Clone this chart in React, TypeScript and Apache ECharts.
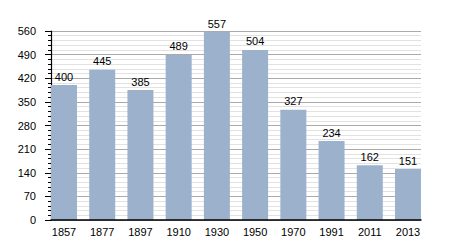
import React, { useEffect, useRef } from "react";
import * as echarts from "echarts";

const years = ["1857", "1877", "1897", "1910", "1930", "1950", "1970", "1991", "2011", "2013"];
const population = [400, 445, 385, 489, 557, 504, 327, 234, 162, 151];

const FONT = "'Liberation Sans', Arial, sans-serif";

export default function App() {
  const ref = useRef<HTMLDivElement>(null);
  useEffect(() => {
    if (!ref.current) return;
    const chart = echarts.init(ref.current, null, { renderer: "svg" });
    const plotLeft = 51;
    const plotRight = 421;
    const barW = 26;
    const gap = (plotRight - plotLeft - years.length * barW) / (years.length - 1);
    chart.setOption({
      animation: false,
      backgroundColor: "#fff",
      grid: [
        { left: plotLeft, right: 450 - plotRight, top: 31, bottom: 30, containLabel: false },
        { left: plotLeft - gap / 2, right: 450 - plotRight - gap / 2, top: 31, bottom: 30, containLabel: false },
      ],
      xAxis: [
        {
          type: "value",
          gridIndex: 0,
          min: 0,
          max: 1,
          z: 5,
          axisLine: { show: true, lineStyle: { color: "#000", width: 1.5 } },
          axisTick: { show: false },
          axisLabel: { show: false },
          splitLine: { show: false },
        },
        {
          type: "category",
          gridIndex: 1,
          data: years,
          axisLine: { show: false },
          axisTick: { show: false },
          axisLabel: { color: "#000", fontSize: 11, fontFamily: FONT, margin: 6 },
        },
      ],
      yAxis: [
        {
          type: "value",
          gridIndex: 0,
          min: 0,
          max: 560,
          interval: 70,
          axisLine: { show: true, lineStyle: { color: "#000", width: 1.2 } },
          axisTick: { show: true, length: 6, lineStyle: { color: "#000" } },
          minorTick: { show: true, splitNumber: 5, length: 3, lineStyle: { color: "#000" } },
          splitLine: { show: true, lineStyle: { color: "#aaaaaa", width: 1 } },
          minorSplitLine: { show: true, lineStyle: { color: "#e2e2e2", width: 1 } },
          axisLabel: { color: "#000", fontSize: 11, fontFamily: FONT, margin: 15 },
        },
        {
          type: "value",
          gridIndex: 1,
          min: 0,
          max: 560,
          show: false,
        },
      ],
      series: [
        {
          type: "bar",
          xAxisIndex: 1,
          yAxisIndex: 1,
          data: population,
          barWidth: barW,
          itemStyle: { color: "#9bb1cc" },
          label: {
            show: true,
            position: "top",
            distance: 3,
            color: "#000",
            fontSize: 11,
            fontFamily: FONT,
          },
        },
      ],
    });
    return () => chart.dispose();
  }, []);
  return <div ref={ref} style={{ width: 450, height: 250, margin: -8 }} />;
}
